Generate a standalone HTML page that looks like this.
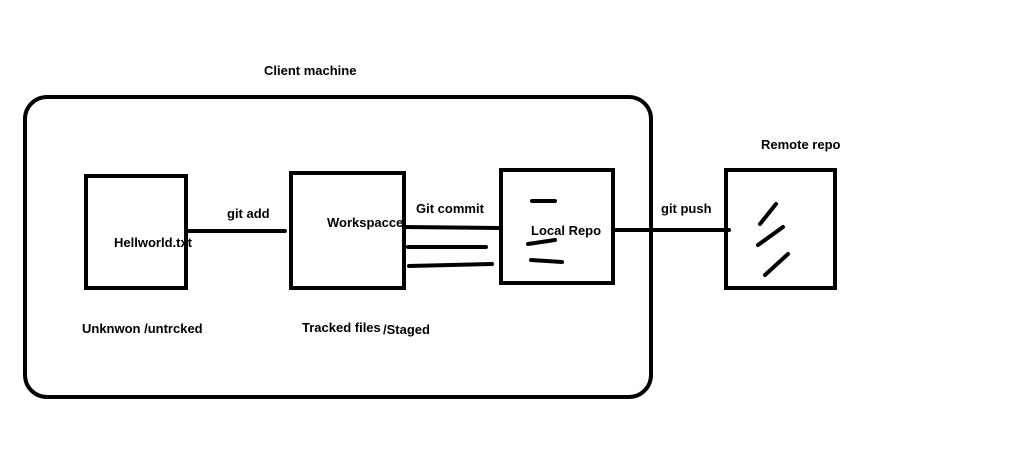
<!DOCTYPE html>
<html><head><style>html,body{margin:0;padding:0;background:#fff;}svg{display:block}text{font-family:"Liberation Sans",sans-serif;font-weight:bold;font-size:13px;fill:#000}</style></head>
<body>
<svg width="1023" height="461" viewBox="0 0 1023 461" xmlns="http://www.w3.org/2000/svg">
<g fill="none" stroke="#000" stroke-width="4" stroke-linecap="round">
<rect x="25" y="97" width="626" height="300" rx="22"/>
<rect x="86" y="176" width="100" height="112"/>
<rect x="291" y="173" width="113" height="115"/>
<rect x="501" y="170" width="112" height="113"/>
<rect x="726" y="170" width="109" height="118"/>
<line x1="186" y1="231" x2="285" y2="231"/>
<line x1="404" y1="227" x2="500" y2="228"/>
<line x1="408" y1="247" x2="486" y2="247"/>
<line x1="409" y1="266" x2="492" y2="264"/>
<line x1="613" y1="230" x2="729" y2="230"/>
<line x1="532" y1="201" x2="555" y2="201"/>
<line x1="528" y1="244" x2="555" y2="240"/>
<line x1="531" y1="260" x2="562" y2="262"/>
<line x1="760" y1="224" x2="776" y2="204"/>
<line x1="758" y1="245" x2="783" y2="227"/>
<line x1="765" y1="275" x2="788" y2="254"/>
</g>
<text x="264" y="75">Client machine</text>
<text x="761" y="149">Remote repo</text>
<text x="227" y="218">git add</text>
<text x="114" y="247">Hellworld.txt</text>
<text x="327" y="227">Workspacce</text>
<text x="416" y="213">Git commit</text>
<text x="531" y="235">Local Repo</text>
<text x="661" y="213">git push</text>
<text x="82" y="333">Unknwon /untrcked</text>
<text x="302" y="332">Tracked files</text>
<text x="383" y="334">/Staged</text>
</svg>
</body></html>
